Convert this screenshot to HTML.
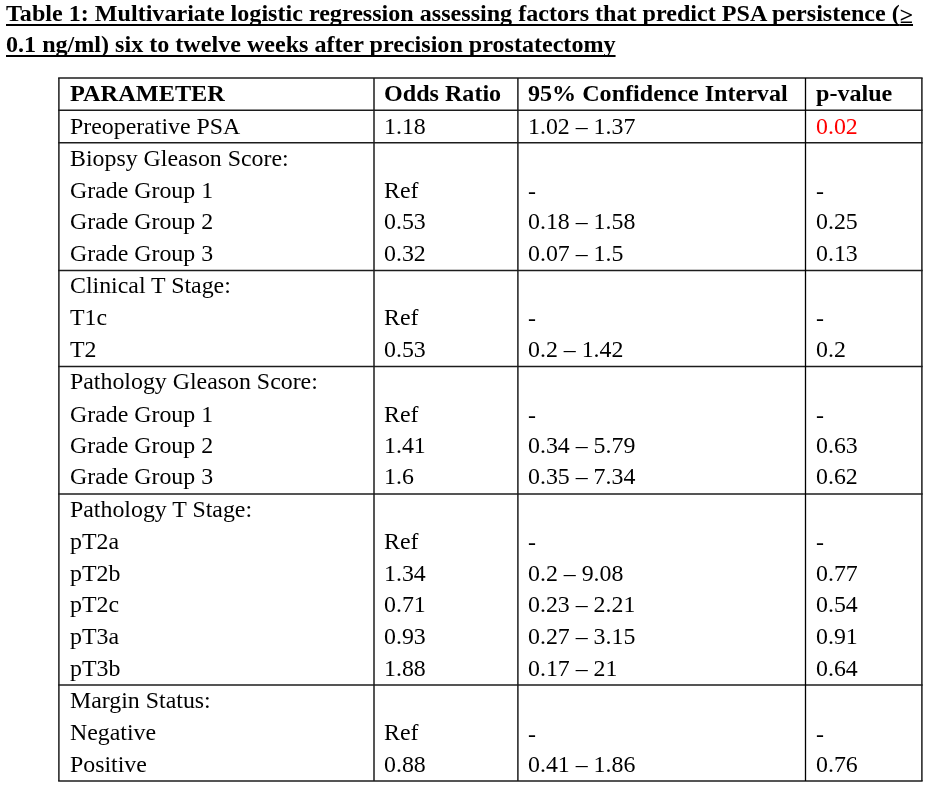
<!DOCTYPE html>
<html lang="en"><head><meta charset="utf-8"><title>Table 1</title>
<style>
html,body{margin:0;padding:0;background:#fff;}
body{width:947px;height:790px;position:relative;overflow:hidden;font-family:"Liberation Serif","Times New Roman",serif;color:#000;}
.t{position:absolute;left:6px;margin:0;font-weight:bold;font-size:22.4px;line-height:31px;white-space:nowrap;text-decoration:underline;text-decoration-thickness:2px;text-underline-offset:2.6px;text-decoration-skip-ink:none;transform:scaleX(1.076);transform-origin:0 0;}
.c{position:absolute;font-size:22.3px;line-height:32px;height:32px;white-space:nowrap;transform:scaleX(1.070);transform-origin:0 0;}
.h{font-weight:bold;font-size:22.4px;}
.r{color:#ff0000;}
svg{position:absolute;left:0;top:0;}
</style></head><body>
<h1 class="t" id="t1" style="top:-2px;">Table 1: Multivariate logistic regression assessing factors that predict PSA persistence (<span style="position:relative;top:1.7px">≥</span></h1>
<h1 class="t" id="t2" style="top:29px;">0.1 ng/ml) six to twelve weeks after precision prostatectomy</h1>

<svg width="947" height="790" viewBox="0 0 947 790" fill="none" stroke="#1c1c1c" stroke-width="1.5">
<line x1="58.15" y1="77.90" x2="922.65" y2="77.90"/>
<line x1="58.15" y1="110.25" x2="922.65" y2="110.25"/>
<line x1="58.15" y1="142.70" x2="922.65" y2="142.70"/>
<line x1="58.15" y1="270.40" x2="922.65" y2="270.40"/>
<line x1="58.15" y1="366.45" x2="922.65" y2="366.45"/>
<line x1="58.15" y1="493.90" x2="922.65" y2="493.90"/>
<line x1="58.15" y1="685.00" x2="922.65" y2="685.00"/>
<line x1="58.15" y1="781.10" x2="922.65" y2="781.10"/>
<line x1="58.90" y1="77.90" x2="58.90" y2="781.10"/>
<line x1="374.00" y1="77.90" x2="374.00" y2="781.10"/>
<line x1="517.90" y1="77.90" x2="517.90" y2="781.10"/>
<line x1="805.50" y1="77.90" x2="805.50" y2="781.10" stroke="#000" stroke-width="1.3"/>
<line x1="921.90" y1="77.90" x2="921.90" y2="781.10"/>
</svg>
<div class="c h" style="left:69.8px;top:78.34px;transform:scaleX(1.086)">PARAMETER</div>
<div class="c h" style="left:383.9px;top:78.34px;transform:scaleX(1.076)">Odds Ratio</div>
<div class="c h" style="left:527.6px;top:78.34px;transform:scaleX(1.076)">95% Confidence Interval</div>
<div class="c h" style="left:815.6px;top:78.34px;transform:scaleX(1.076)">p-value</div>
<div class="c" style="left:69.8px;top:110.67px">Preoperative PSA</div>
<div class="c" style="left:383.9px;top:110.67px">1.18</div>
<div class="c" style="left:527.6px;top:110.67px">1.02 – 1.37</div>
<div class="c r" style="left:815.6px;top:110.67px">0.02</div>
<div class="c" style="left:69.8px;top:142.57px">Biopsy Gleason Score:</div>
<div class="c" style="left:69.8px;top:174.57px">Grade Group 1</div>
<div class="c" style="left:383.9px;top:174.57px">Ref</div>
<div class="c" style="left:528.1px;top:175.87px">-</div>
<div class="c" style="left:816.1px;top:175.87px">-</div>
<div class="c" style="left:69.8px;top:206.07px">Grade Group 2</div>
<div class="c" style="left:383.9px;top:206.07px">0.53</div>
<div class="c" style="left:527.6px;top:206.07px">0.18 – 1.58</div>
<div class="c" style="left:815.6px;top:206.07px">0.25</div>
<div class="c" style="left:69.8px;top:237.97px">Grade Group 3</div>
<div class="c" style="left:383.9px;top:237.97px">0.32</div>
<div class="c" style="left:527.6px;top:237.97px">0.07 – 1.5</div>
<div class="c" style="left:815.6px;top:237.97px">0.13</div>
<div class="c" style="left:69.8px;top:270.03px">Clinical T Stage:</div>
<div class="c" style="left:69.8px;top:302.07px">T1c</div>
<div class="c" style="left:383.9px;top:302.07px">Ref</div>
<div class="c" style="left:528.1px;top:303.37px">-</div>
<div class="c" style="left:816.1px;top:303.37px">-</div>
<div class="c" style="left:69.8px;top:334.17px">T2</div>
<div class="c" style="left:383.9px;top:334.17px">0.53</div>
<div class="c" style="left:527.6px;top:334.17px">0.2 – 1.42</div>
<div class="c" style="left:815.6px;top:334.17px">0.2</div>
<div class="c" style="left:69.8px;top:366.47px">Pathology Gleason Score:</div>
<div class="c" style="left:69.8px;top:398.57px">Grade Group 1</div>
<div class="c" style="left:383.9px;top:398.57px">Ref</div>
<div class="c" style="left:528.1px;top:399.87px">-</div>
<div class="c" style="left:816.1px;top:399.87px">-</div>
<div class="c" style="left:69.8px;top:429.57px">Grade Group 2</div>
<div class="c" style="left:383.9px;top:429.57px">1.41</div>
<div class="c" style="left:527.6px;top:429.57px">0.34 – 5.79</div>
<div class="c" style="left:815.6px;top:429.57px">0.63</div>
<div class="c" style="left:69.8px;top:460.87px">Grade Group 3</div>
<div class="c" style="left:383.9px;top:460.87px">1.6</div>
<div class="c" style="left:527.6px;top:460.87px">0.35 – 7.34</div>
<div class="c" style="left:815.6px;top:460.87px">0.62</div>
<div class="c" style="left:69.8px;top:493.97px">Pathology T Stage:</div>
<div class="c" style="left:69.8px;top:526.07px">pT2a</div>
<div class="c" style="left:383.9px;top:526.07px">Ref</div>
<div class="c" style="left:528.1px;top:527.37px">-</div>
<div class="c" style="left:816.1px;top:527.37px">-</div>
<div class="c" style="left:69.8px;top:557.97px">pT2b</div>
<div class="c" style="left:383.9px;top:557.97px">1.34</div>
<div class="c" style="left:527.6px;top:557.97px">0.2 – 9.08</div>
<div class="c" style="left:815.6px;top:557.97px">0.77</div>
<div class="c" style="left:69.8px;top:588.77px">pT2c</div>
<div class="c" style="left:383.9px;top:588.77px">0.71</div>
<div class="c" style="left:527.6px;top:588.77px">0.23 – 2.21</div>
<div class="c" style="left:815.6px;top:588.77px">0.54</div>
<div class="c" style="left:69.8px;top:621.07px">pT3a</div>
<div class="c" style="left:383.9px;top:621.07px">0.93</div>
<div class="c" style="left:527.6px;top:621.07px">0.27 – 3.15</div>
<div class="c" style="left:815.6px;top:621.07px">0.91</div>
<div class="c" style="left:69.8px;top:652.97px">pT3b</div>
<div class="c" style="left:383.9px;top:652.97px">1.88</div>
<div class="c" style="left:527.6px;top:652.97px">0.17 – 21</div>
<div class="c" style="left:815.6px;top:652.97px">0.64</div>
<div class="c" style="left:69.8px;top:684.87px">Margin Status:</div>
<div class="c" style="left:69.8px;top:717.37px">Negative</div>
<div class="c" style="left:383.9px;top:717.37px">Ref</div>
<div class="c" style="left:528.1px;top:718.67px">-</div>
<div class="c" style="left:816.1px;top:718.67px">-</div>
<div class="c" style="left:69.8px;top:748.57px">Positive</div>
<div class="c" style="left:383.9px;top:748.57px">0.88</div>
<div class="c" style="left:527.6px;top:748.57px">0.41 – 1.86</div>
<div class="c" style="left:815.6px;top:748.57px">0.76</div>
</body></html>
